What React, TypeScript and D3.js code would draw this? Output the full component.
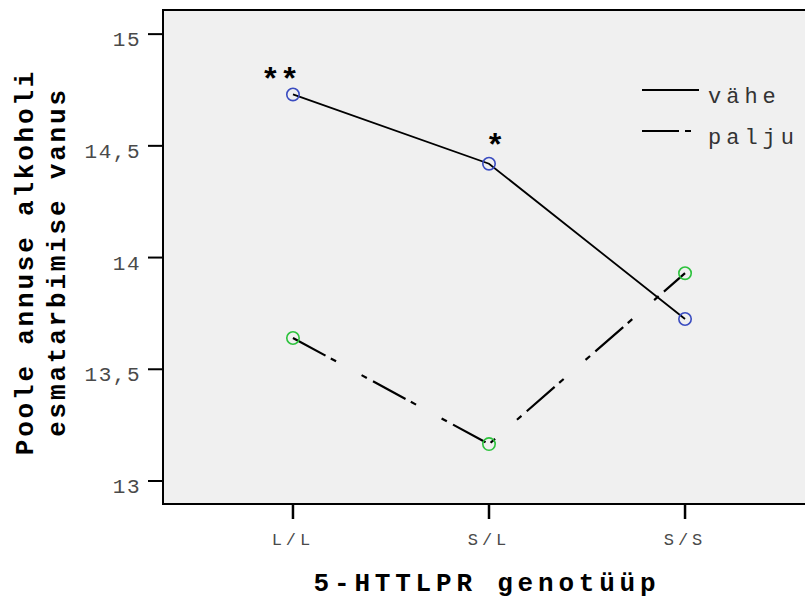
import React from 'react';
import * as d3 from 'd3';

// genotypes on the x axis
const categories = ['L/L', 'S/L', 'S/S'];
// mean age of first drinking, by group
const vaheValues = [14.73, 14.42, 13.725];
const paljuValues = [13.64, 13.165, 13.93];
const yTicks = [13, 13.5, 14, 14.5, 15];
const yTickLabels = ['13', '13,5', '14', '14,5', '15'];
const seriesNames = ['vähe', 'palju'];
// significance marks placed over the "vähe" points
const marks = [
    { category: 'L/L', label: '**' },
    { category: 'S/L', label: '*' },
];

const width = 805;
const height = 598;
const plot = { left: 163, right: 815, top: 10, bottom: 504 };
const font = '"Liberation Mono", "Courier New", monospace';
const dashPattern = '37,6,6,29,6,7';
const markOffset: Record<string, { dx: number; dy: number }> = {
    '**': { dx: -13, dy: -4 },
    '*': { dx: 6, dy: -8 },
};

const App = () => {
    const x = d3.scalePoint<string>()
        .domain(categories)
        .range([plot.left, plot.right])
        .padding(0.663);

    const y = d3.scaleLinear()
        .domain([12.897, 15.108])
        .range([plot.bottom, plot.top]);

    const line = d3.line<number>()
        .x((d, i) => x(categories[i]) as number)
        .y(d => y(d));

    const series = [
        { name: seriesNames[0], values: vaheValues, dash: 'none', width: 1.8, marker: '#3a4cc0' },
        { name: seriesNames[1], values: paljuValues, dash: dashPattern, width: 2.2, marker: '#2cc23c' },
    ];

    return (
        <svg width={width} height={height} style={{ position: 'absolute', left: 0, top: 0, background: '#fff' }}>
            {/* plot area */}
            <rect x={plot.left} y={plot.top} width={plot.right - plot.left} height={plot.bottom - plot.top}
                fill="#f0f0f0" stroke="#000" strokeWidth={2} />

            {/* y axis */}
            {yTicks.map((t, i) => (
                <g key={t}>
                    <line x1={plot.left - 15} x2={plot.left} y1={y(t)} y2={y(t)} stroke="#000" strokeWidth={2} />
                    <text x={141} y={y(t) + 12} textAnchor="end" fontFamily={font} fontSize={21}
                        letterSpacing={1.5} fill="#4a4a4a">{yTickLabels[i]}</text>
                </g>
            ))}

            {/* x axis */}
            {categories.map(c => (
                <g key={c}>
                    <line x1={x(c)} x2={x(c)} y1={plot.bottom} y2={plot.bottom + 15} stroke="#000" strokeWidth={2.5} />
                    <text x={x(c)} y={545} textAnchor="middle" fontFamily={font} fontSize={17}
                        letterSpacing={4} fill="#4a4a4a">{c}</text>
                </g>
            ))}

            {/* axis titles */}
            <text x={487} y={591} textAnchor="middle" fontFamily={font} fontSize={26} fontWeight="bold"
                letterSpacing={4.8} fill="#000">5-HTTLPR genotüüp</text>
            <text transform="translate(33,262) rotate(-90)" textAnchor="middle" fontFamily={font} fontSize={26}
                fontWeight="bold" letterSpacing={2.8} fill="#000">Poole annuse alkoholi</text>
            <text transform="translate(65,262) rotate(-90)" textAnchor="middle" fontFamily={font} fontSize={26}
                fontWeight="bold" letterSpacing={2.8} fill="#000">esmatarbimise vanus</text>

            {/* lines */}
            {series.map(s => (
                <path key={s.name} d={line(s.values) as string} fill="none" stroke="#000"
                    strokeWidth={s.width} strokeDasharray={s.dash} />
            ))}

            {/* markers */}
            {series.map(s => s.values.map((v, i) => (
                <circle key={s.name + i} cx={x(categories[i])} cy={y(v)} r={6.2}
                    fill="none" stroke={s.marker} strokeWidth={1.6} />
            )))}

            {/* significance marks */}
            {marks.map(m => {
                const i = categories.indexOf(m.category);
                const off = markOffset[m.label];
                return (
                    <text key={m.label} x={(x(m.category) as number) + off.dx} y={y(vaheValues[i]) + off.dy}
                        textAnchor="middle" fontFamily={font} fontSize={32} fontWeight="bold" fill="#000">{m.label}</text>
                );
            })}

            {/* legend */}
            {series.map((s, i) => (
                <g key={s.name} transform={`translate(642,${90 + i * 41})`}>
                    <line x1={0} x2={57} y1={0} y2={0} stroke="#000" strokeWidth={2}
                        strokeDasharray={s.dash} />
                    <text x={66} y={13} fontFamily={font} fontSize={22} letterSpacing={5} fill="#333">{s.name}</text>
                </g>
            ))}
        </svg>
    );
};

export default App;
